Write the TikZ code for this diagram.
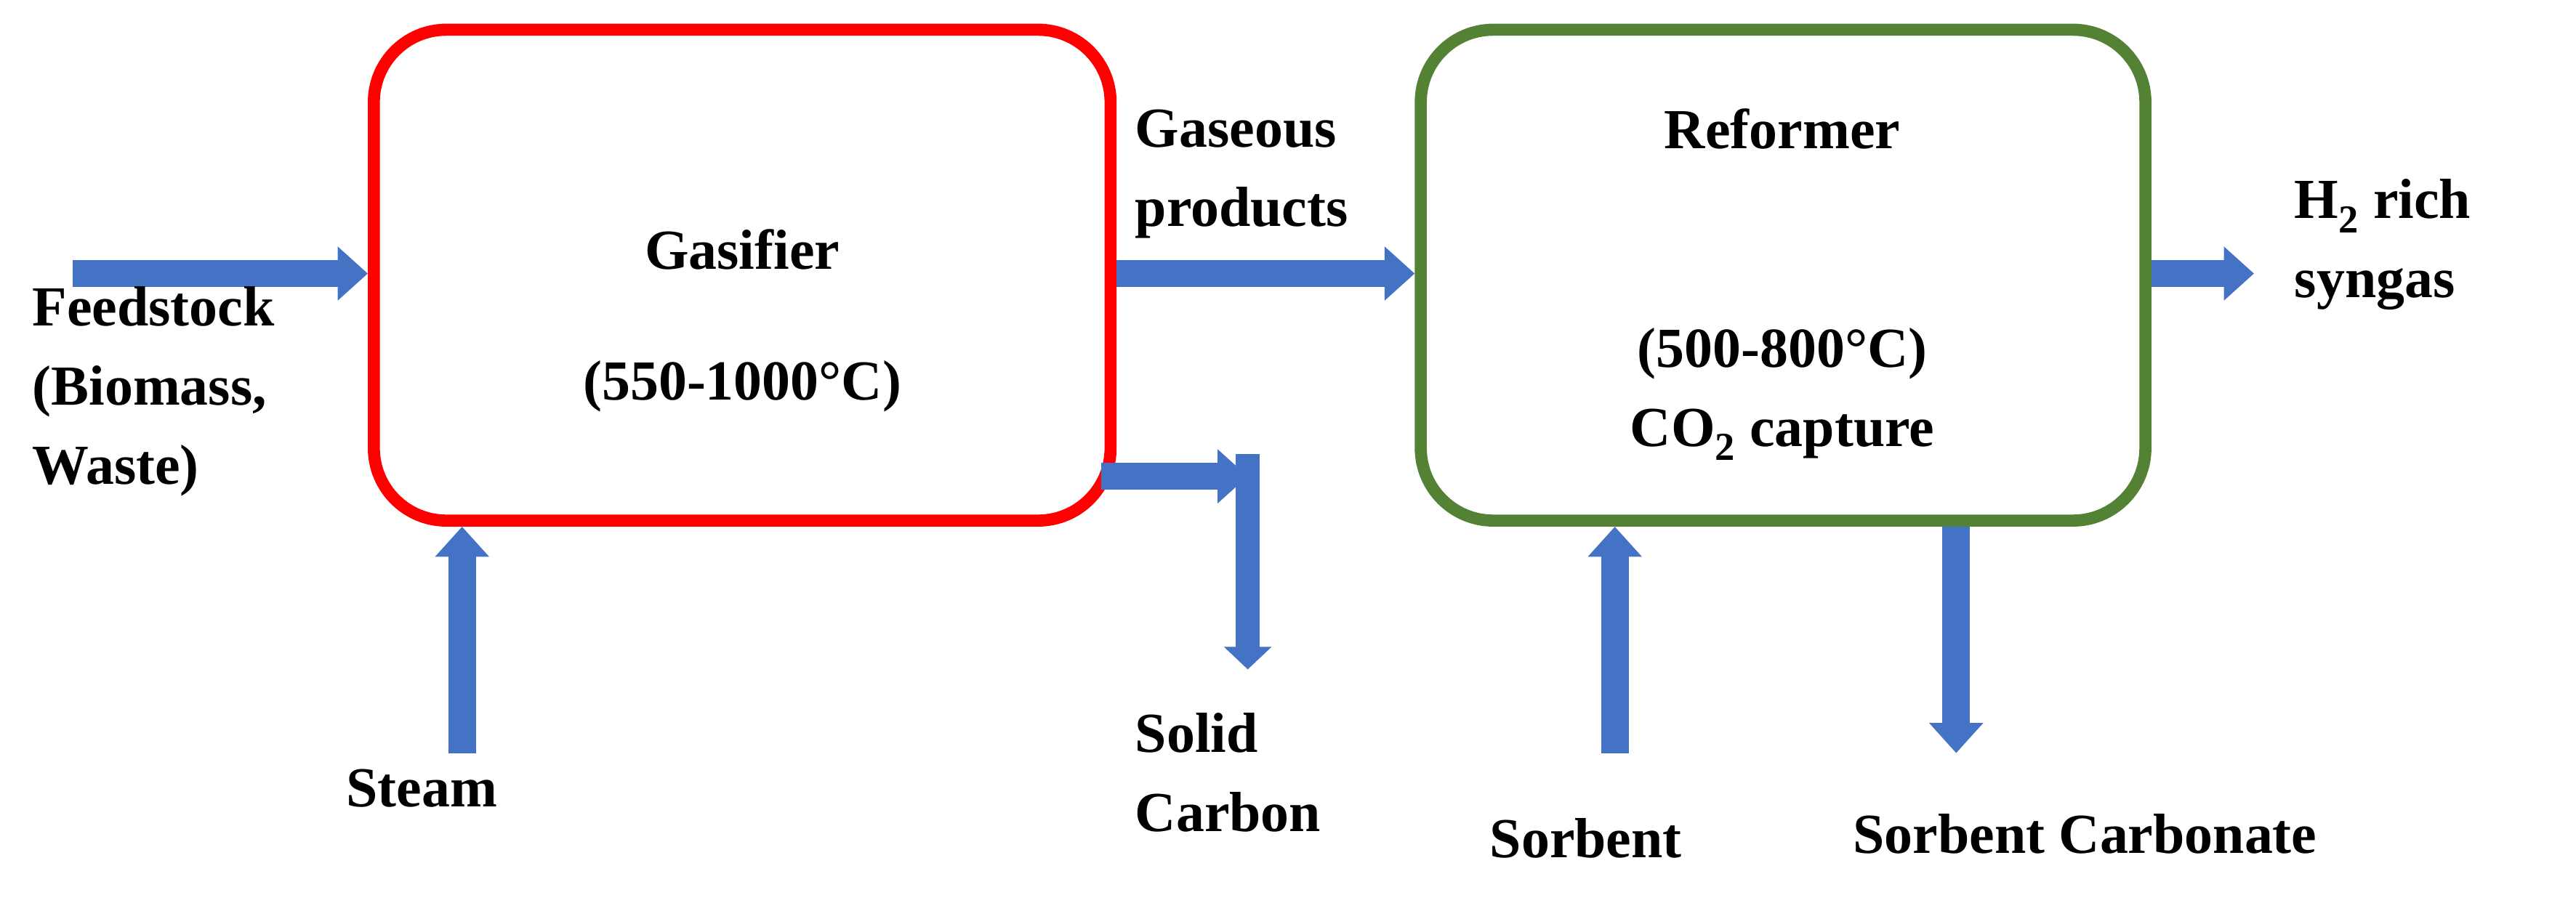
\documentclass[tikz,border=0pt]{standalone}
\usepackage{fontspec}
\setmainfont{Liberation Serif}
\usetikzlibrary{arrows.meta}
\definecolor{ablue}{HTML}{4472C4}
\definecolor{rred}{HTML}{FF0000}
\definecolor{rgreen}{HTML}{548235}
\begin{document}
\begin{tikzpicture}[x=0.04cm,y=-0.04cm,
  box/.style={draw,line width=0.3cm,rounded corners=1.8cm,minimum width=18.3cm,minimum height=12.2cm,inner sep=0pt},
  flow/.style={ablue,line width=0.68cm,-{Triangle[length=0.75cm,width=1.3cm]}},
  lbl/.style={font=\bfseries\fontsize{40}{56}\selectfont,align=left,inner sep=0pt},
  lblc/.style={lbl,align=center}]
\useasboundingbox (0,0) rectangle (1600,561);
\node[box,draw=rred] (gas) at (461,171) {};
\node[box,draw=rgreen,minimum width=18.0cm] (ref) at (1107.5,171) {};
\coordinate (fin) at (45,170);
\coordinate (hout) at (1400,170);
\coordinate (stin) at (287,468);
\coordinate (sbin) at (1003,468);
\coordinate (scout) at (1215,468);
\coordinate (bar) at (775,282);
\coordinate (barend) at (775,416);
\draw[flow] (fin) -- (fin -| gas.west);
\draw[flow] (gas.east |- fin) -- (ref.west |- fin);
\draw[flow] (ref.east |- hout) -- (hout);
\draw[flow] (stin) -- (stin |- gas.south);
\draw[flow] (sbin) -- (sbin |- ref.south);
\draw[flow] (scout |- ref.south) -- (scout);
\draw[flow] (684,296) -- (bar |- 0,296);
\draw[ablue,line width=0.6cm,-{Triangle[length=0.56cm,width=1.15cm]}] (bar) -- (barend);
\node[lblc] (t1) at (461,155) {Gasifier};
\node[lblc] (t2) at (461,240) {(550-1000°C)};
\node[lblc] (t3) at (1107,80) {Reformer};
\node[lblc] (t4) at (1107,245) {(500-800°C)\\CO\textsubscript{2} capture};
\node[lbl,anchor=north west] (t5) at (20,178) {Feedstock\\(Biomass,\\Waste)};
\node[lbl,anchor=west] (t6) at (705,108) {Gaseous\\products};
\node[lbl,anchor=west] (t7) at (1425,152) {H\textsubscript{2} rich\\syngas};
\node[lblc] (t8) at (262,490) {Steam};
\node[lbl,anchor=west] (t9) at (705,480) {Solid\\Carbon};
\node[lblc] (t10) at (985,521) {Sorbent};
\node[lblc] (t11) at (1295,518) {Sorbent Carbonate};
\end{tikzpicture}
\end{document}
